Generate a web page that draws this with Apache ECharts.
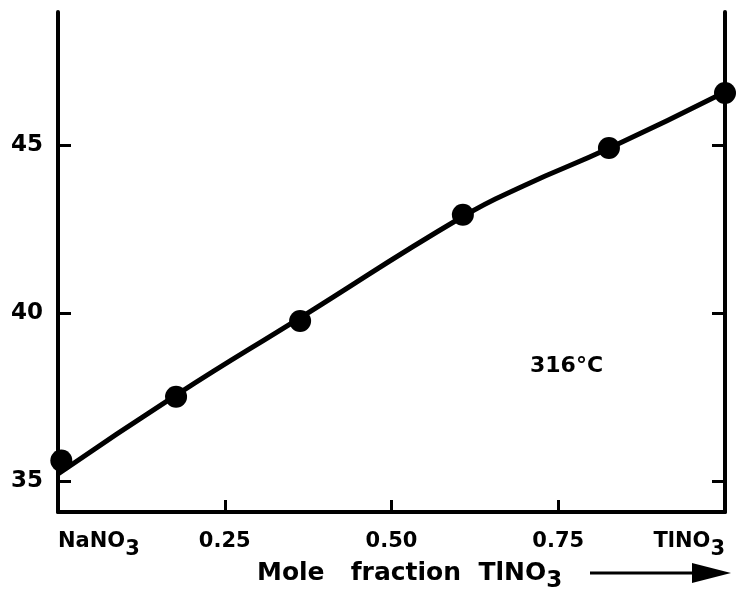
<!DOCTYPE html>
<html>
<head>
<meta charset="utf-8">
<script src="https://cdn.jsdelivr.net/npm/echarts@6/dist/echarts.min.js"></script>
<style>html,body{margin:0;padding:0;background:#fff;}#c{width:736px;height:602px;}</style>
</head>
<body>
<div id="c"></div>
<script>
// Data
const pointX = [0.005, 0.177, 0.363, 0.607, 0.826, 1.0];
const pointY = [35.6, 37.5, 39.76, 42.92, 44.91, 46.55];
const curveX = [0, 0.177, 0.363, 0.607, 0.7, 0.826, 1.0];
const curveY = [35.2, 37.55, 39.85, 42.87, 43.8, 44.9, 46.58];
const xTicks = [0, 0.25, 0.5, 0.75, 1];
const xTickLabels = ['NaNO{s|3}', '0.25{z| }', '0.50{z| }', '0.75{z| }', 'TlNO{s|3}'];
const yTicks = [35, 40, 45];
const yTickLabels = ['35', '40', '45'];
const annotation = '316°C';
const xTitle = 'Mole   fraction  TlNO{s|3}';

const FONT = 'DejaVu Sans';
const chart = echarts.init(document.getElementById('c'), null, {renderer: 'canvas'});
const yAxisBase = {
  type: 'value', min: 34.07, max: 48.96,
  axisLine: {show: true, lineStyle: {color: '#000', width: 4, cap: 'round'}},
  axisTick: {show: true, inside: true, length: 13, customValues: yTicks, lineStyle: {color: '#000', width: 3}},
  splitLine: {show: false}
};
chart.setOption({
  animation: false,
  backgroundColor: '#fff',
  grid: {left: 58, right: 11, top: 12, bottom: 90},
  xAxis: {
    type: 'value', min: 0, max: 1,
    axisLine: {lineStyle: {color: '#000', width: 4}},
    axisTick: {show: true, inside: true, length: 12, customValues: [0.25, 0.5, 0.75], lineStyle: {color: '#000', width: 3}},
    splitLine: {show: false},
    axisLabel: {
      customValues: xTicks,
      margin: 11,
      alignMinLabel: 'left', alignMaxLabel: 'right',
      showMinLabel: true, showMaxLabel: true,
      formatter: function (v) { const i = xTicks.indexOf(v); return i >= 0 ? xTickLabels[i] : ''; },
      color: '#000', fontFamily: FONT, fontWeight: 'bold', fontSize: 21,
      rich: {
        s: {fontFamily: FONT, fontWeight: 'bold', fontSize: 21, color: '#000', padding: [16, 0, 0, 0]},
        z: {fontFamily: FONT, fontWeight: 'bold', fontSize: 21, color: '#000', width: 0, padding: [16, 0, 0, 0]}
      }
    }
  },
  yAxis: [
    Object.assign({}, yAxisBase, {
      position: 'left',
      axisLabel: {
        customValues: yTicks, margin: 15,
        formatter: function (v) { const i = yTicks.indexOf(v); return i >= 0 ? yTickLabels[i] : ''; },
        color: '#000', fontFamily: FONT, fontWeight: 'bold', fontSize: 23
      }
    }),
    Object.assign({}, yAxisBase, {position: 'right', axisLabel: {show: false}})
  ],
  series: [
    {
      type: 'line', smooth: 0.5, showSymbol: false,
      data: curveX.map((x, i) => [x, curveY[i]]),
      lineStyle: {color: '#000', width: 5}, z: 2
    },
    {
      type: 'scatter', symbol: 'circle', symbolSize: 22,
      data: pointX.map((x, i) => [x, pointY[i]]),
      itemStyle: {color: '#000', opacity: 1}, z: 3
    }
  ],
  graphic: [
    {type: 'text', left: 530, top: 355, style: {text: annotation, fill: '#000', font: 'bold 22px "DejaVu Sans"'}},
    {type: 'text', left: 257, top: 561, style: {
      text: xTitle, fill: '#000', fontFamily: FONT, fontWeight: 'bold', fontSize: 25,
      rich: {s: {fontFamily: FONT, fontWeight: 'bold', fontSize: 23, fill: '#000', padding: [16, 0, 0, 0]}}
    }},
    {type: 'line', shape: {x1: 590, y1: 573, x2: 700, y2: 573}, style: {stroke: '#000', lineWidth: 3}},
    {type: 'polygon', shape: {points: [[692, 563], [731, 573], [692, 583]]}, style: {fill: '#000'}}
  ]
});
</script>
</body>
</html>
